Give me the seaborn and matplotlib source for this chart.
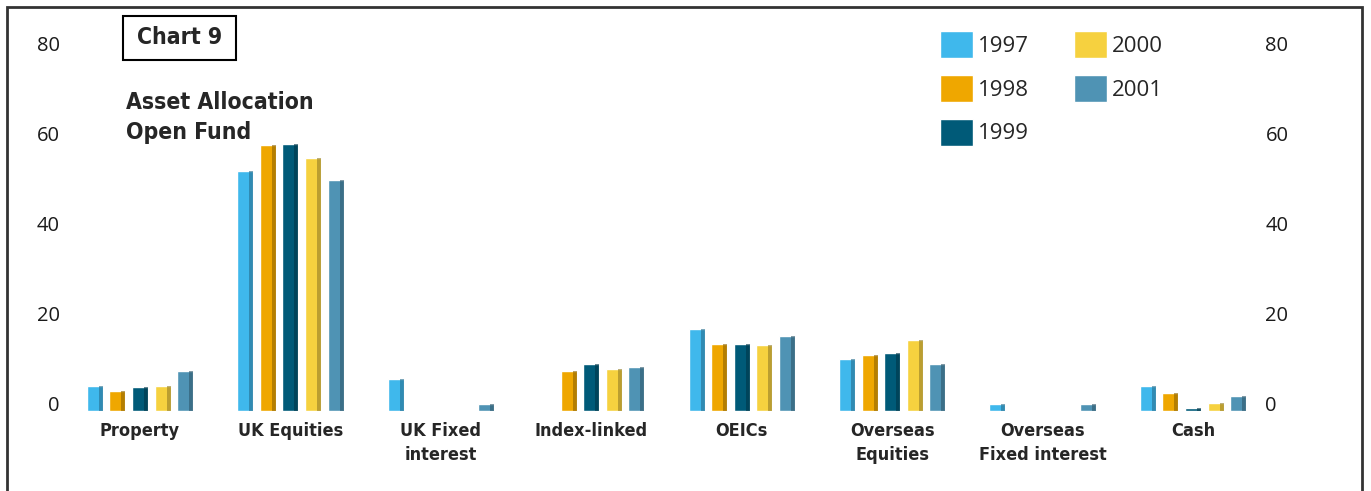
import numpy as np
import pandas as pd
import matplotlib.pyplot as plt
import seaborn as sns
from matplotlib.patches import Rectangle
from matplotlib.colors import to_rgb

# Werte (in %)
categories = ['Property', 'UK Equities', 'UK Fixed\ninterest', 'Index-linked', 'OEICs',
              'Overseas\nEquities', 'Overseas\nFixed interest', 'Cash']
years = ['1997', '1998', '1999', '2000', '2001']
v1997 = [5.6, 53.3, 7.0, 0, 18.1, 11.6, 1.5, 5.5]
v1998 = [4.4, 59.0, 0, 8.9, 14.8, 12.4, 0, 3.9]
v1999 = [5.3, 59.2, 0, 10.4, 14.8, 12.9, 0, 0.7]
v2000 = [5.6, 56.2, 0, 9.2, 14.6, 15.7, 0, 1.8]
v2001 = [8.8, 51.3, 1.6, 9.8, 16.7, 10.3, 1.5, 3.3]
yticks = [0, 20, 40, 60, 80]
colors = ['#3fb8ec', '#efa700', '#005a78', '#f6d13f', '#4f93b4']

rows = []
for year, vals in zip(years, [v1997, v1998, v1999, v2000, v2001]):
    for cat, v in zip(categories, vals):
        rows.append({'Asset': cat, 'Year': year, 'Value': v})
df = pd.DataFrame(rows)

sns.set_style('white')
plain = ['Open Sans', 'DejaVu Sans']
plt.rcParams['font.family'] = plain
bold_narrow = dict(family='DejaVu Sans', fontweight='bold', fontstretch='condensed')

W, H = 1371, 491
fig = plt.figure(figsize=(W / 100, H / 100), dpi=100)
ax = fig.add_axes([70 / W, (H - 410.7) / H, 1185 / W, 369 / H])

sns.barplot(data=df, x='Asset', y='Value', hue='Year', order=categories,
            hue_order=years, palette=colors, saturation=1, width=0.75, gap=0.29,
            ax=ax)

# leichter 3D-Effekt: dunkler Rand rechts
for p in list(ax.patches):
    h = p.get_height()
    if h <= 0:
        continue
    x, w = p.get_x(), p.get_width()
    dark = tuple(c * 0.6 for c in to_rgb(p.get_facecolor()))
    ax.add_patch(Rectangle((x + 0.75 * w, 0), 0.25 * w, h, color=dark, alpha=0.6, lw=0))

ax.set_xlabel('')
ax.set_ylabel('')
sns.despine(ax=ax, left=True, bottom=True)

# Beschriftungen der y-Achse sitzen etwas oberhalb der Balkenbasis
ax.set_yticks([t + 1.55 for t in yticks], labels=[str(t) for t in yticks])
ax.set_xlim(-0.465, 7.412)
ax.set_ylim(0, 82)
ax.tick_params(axis='y', length=0, labelleft=True, labelright=True, labelsize=14.5,
               labelcolor='#1a1a1a')
ax.yaxis.set_tick_params(pad=7.5)
for t in ax.yaxis.get_major_ticks():
    t.label2.set_horizontalalignment('left')

ax.tick_params(axis='x', length=0, pad=8)
for lab in ax.get_xticklabels():
    lab.set(**bold_narrow)
    lab.set_fontsize(13)
    lab.set_linespacing(1.45)

handles, labels = ax.get_legend_handles_labels()
ax.legend(handles, labels, ncol=2, loc='upper left',
          bbox_to_anchor=(940 / W, 1 - 31 / H), bbox_transform=fig.transFigure,
          frameon=False, prop={'family': plain, 'size': 16},
          handlelength=1.5, handleheight=1.5, labelspacing=0.75,
          columnspacing=2.03, handletextpad=0.2, borderpad=0, borderaxespad=0)

# Titel
fig.add_artist(Rectangle((123 / W, 1 - 60 / H), 113 / W, 44.3 / H,
                         transform=fig.transFigure, fill=False, lw=1.5, ec='black'))
fig.text(180 / W, 1 - 38 / H, 'Chart 9', ha='center', va='center',
         fontsize=16.5, **bold_narrow)
fig.text(126 / W, 1 - 117.5 / H, 'Asset Allocation\nOpen Fund', ha='left', va='center',
         fontsize=16.5, linespacing=1.4, **bold_narrow)

# Rahmen
fig.add_artist(Rectangle((7 / W, -0.05), 1355 / W, 1 - 7 / H + 0.05,
                         transform=fig.transFigure, fill=False, lw=2, ec='#333333'))

fig.savefig('out.png', dpi=100)
